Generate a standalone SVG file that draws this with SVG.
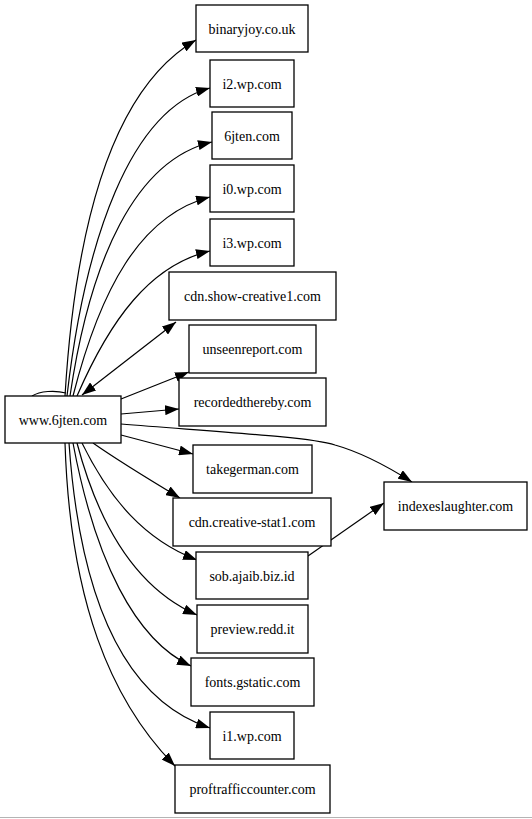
<svg xmlns="http://www.w3.org/2000/svg" width="532" height="819" viewBox="0 0 532 819">
<style>
.n rect{fill:#fff;stroke:#000;stroke-width:1.3}
.n text{font-family:"Liberation Serif","DejaVu Serif","Times New Roman",Times,serif;font-size:14px;fill:#000;text-anchor:middle}
.e path{fill:none;stroke:#000;stroke-width:1.2}
.e .a{marker-end:url(#ah)}
</style>
<defs>
<marker id="ah" markerUnits="userSpaceOnUse" markerWidth="14" markerHeight="10" viewBox="0 0 14 10" refX="14" refY="5" orient="auto"><path d="M0,0 L14,5 L0,10 z" fill="#000"/></marker>
<marker id="as" markerUnits="userSpaceOnUse" markerWidth="14" markerHeight="10" viewBox="0 0 14 10" refX="0" refY="5" orient="auto"><path d="M14,0 L0,5 L14,10 z" fill="#000"/></marker>
</defs>
<rect width="532" height="819" fill="#fff"/>
<g id="edges" class="e">
<path d="M32,396 C40,391 55,390 66,393"/>
<path class="a" d="M65,396 C75,230 110,90 196,40"/>
<path class="a" d="M67,396 C85,240 130,110 210,88"/>
<path class="a" d="M70,396 C90,260 135,160 212,142"/>
<path class="a" d="M73,396 C100,290 140,215 210,197"/>
<path class="a" d="M77,396 C110,320 150,265 210,251"/>
<path class="a" d="M82,395 L176,322" marker-start="url(#as)"/>
<path class="a" d="M121,399 L189,372"/>
<path class="a" d="M121,414 L179,409"/>
<path class="a" d="M121,424 C220,432 310,437 335,445 C360,452 390,468 412,482"/>
<path class="a" d="M121,435 L193,454"/>
<path class="a" d="M93,443 C120,462 150,480 180,498"/>
<path class="a" d="M82,443 C110,500 145,540 197,560"/>
<path class="a" d="M77,443 C100,530 140,590 197,615"/>
<path class="a" d="M73,443 C95,560 135,640 191,666"/>
<path class="a" d="M69,443 C80,600 125,700 210,728"/>
<path class="a" d="M65,443 C70,600 110,700 175,766"/>
<path class="a" d="M308,556 L384,503"/>
</g>
<g id="n_www" class="n"><rect x="5" y="396" width="116" height="47"/><text x="63" y="424.5">www.6jten.com</text></g>
<g id="n_binaryjoy" class="n"><rect x="196" y="5" width="112" height="47"/><text x="252" y="33.5">binaryjoy.co.uk</text></g>
<g id="n_i2" class="n"><rect x="210" y="60" width="84" height="47"/><text x="252" y="88.5">i2.wp.com</text></g>
<g id="n_6jten" class="n"><rect x="212" y="112" width="80" height="47"/><text x="252" y="140.5">6jten.com</text></g>
<g id="n_i0" class="n"><rect x="210" y="165" width="84" height="47"/><text x="252" y="193.5">i0.wp.com</text></g>
<g id="n_i3" class="n"><rect x="210" y="219" width="84" height="47"/><text x="252" y="247.5">i3.wp.com</text></g>
<g id="n_cdnshow" class="n"><rect x="169" y="272" width="167" height="48"/><text x="252.5" y="301">cdn.show-creative1.com</text></g>
<g id="n_unseen" class="n"><rect x="189" y="325" width="127" height="48"/><text x="252.5" y="354">unseenreport.com</text></g>
<g id="n_recorded" class="n"><rect x="179" y="378" width="147" height="48"/><text x="252.5" y="407">recordedthereby.com</text></g>
<g id="n_takegerman" class="n"><rect x="193" y="445" width="119" height="48"/><text x="252.5" y="474">takegerman.com</text></g>
<g id="n_cdncreative" class="n"><rect x="173" y="498" width="158" height="48"/><text x="252" y="527">cdn.creative-stat1.com</text></g>
<g id="n_sob" class="n"><rect x="196" y="552" width="112" height="47"/><text x="252" y="580.5">sob.ajaib.biz.id</text></g>
<g id="n_preview" class="n"><rect x="197" y="605" width="111" height="48"/><text x="252.5" y="634">preview.redd.it</text></g>
<g id="n_fonts" class="n"><rect x="191" y="658" width="123" height="48"/><text x="252.5" y="687">fonts.gstatic.com</text></g>
<g id="n_i1" class="n"><rect x="210" y="712" width="84" height="47"/><text x="252" y="740.5">i1.wp.com</text></g>
<g id="n_proftraffic" class="n"><rect x="175" y="765" width="155" height="48"/><text x="252.5" y="794">proftrafficcounter.com</text></g>
<g id="n_indexes" class="n"><rect x="384" y="482" width="143" height="48"/><text x="455.5" y="511">indexeslaughter.com</text></g>
<line x1="0" y1="817.5" x2="532" y2="817.5" stroke="#b4b4b4" stroke-width="1"/>
</svg>
